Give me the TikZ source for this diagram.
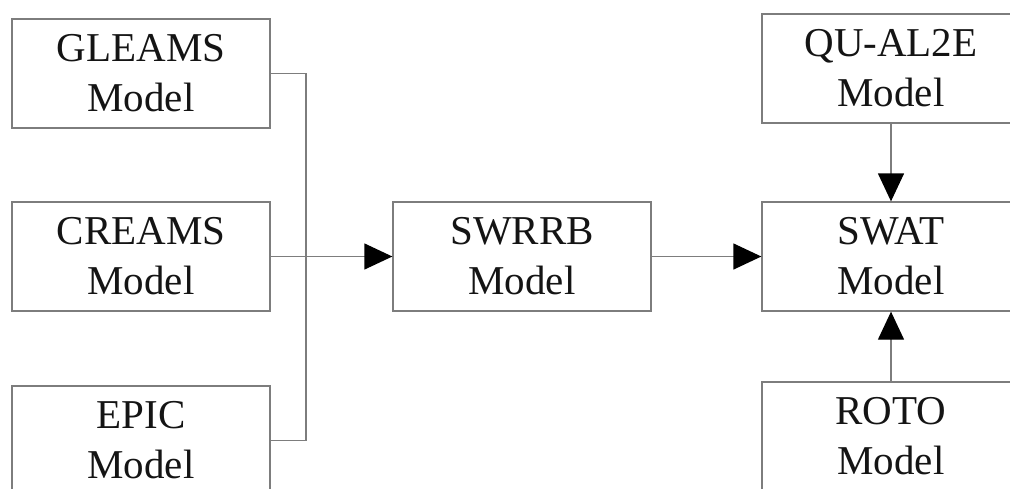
\documentclass[tikz,border=0pt]{standalone}
\usepackage{fontspec}
\setmainfont{Liberation Serif}
\usetikzlibrary{arrows.meta}
\definecolor{edgegray}{RGB}{125,125,125}
\definecolor{txt}{RGB}{20,20,20}
\tikzset{
  modelbox/.style={draw=edgegray, line width=1.3pt, minimum width=258pt, minimum height=109pt,
    inner sep=0pt, align=center, text=txt, font=\fontsize{41}{50}\selectfont},
  link/.style={draw=edgegray, line width=1.3pt},
  arr/.style={link, -{Triangle[length=28pt,width=26pt,color=black]}}
}
\begin{document}
\begin{tikzpicture}[x=1pt,y=-1pt]
\useasboundingbox (0,0) rectangle (1010,488);
\node[modelbox] (gleams) at (141,73.5) {GLEAMS\\Model};
\node[modelbox] (creams) at (141,256.5) {CREAMS\\Model};
\node[modelbox] (epic) at (141,440.5) {EPIC\\Model};
\node[modelbox] (swrrb) at (522,256.5) {SWRRB\\Model};
\node[modelbox] (qual) at (891,68.5) {QU-AL2E\\Model};
\node[modelbox] (swat) at (891,256.5) {SWAT\\Model};
\node[modelbox] (roto) at (891,436.5) {ROTO\\Model};
\coordinate (bt) at (306,73.5);
\coordinate (bb) at (306,440.5);
\draw[link] (gleams.east) -- (bt) -- (bb) -- (epic.east);
\draw[arr] (creams.east) -- (swrrb.west);
\draw[arr] (swrrb.east) -- (swat.west);
\draw[arr] (qual.south) -- (swat.north);
\draw[arr] (roto.north) -- (swat.south);
\end{tikzpicture}
\end{document}
